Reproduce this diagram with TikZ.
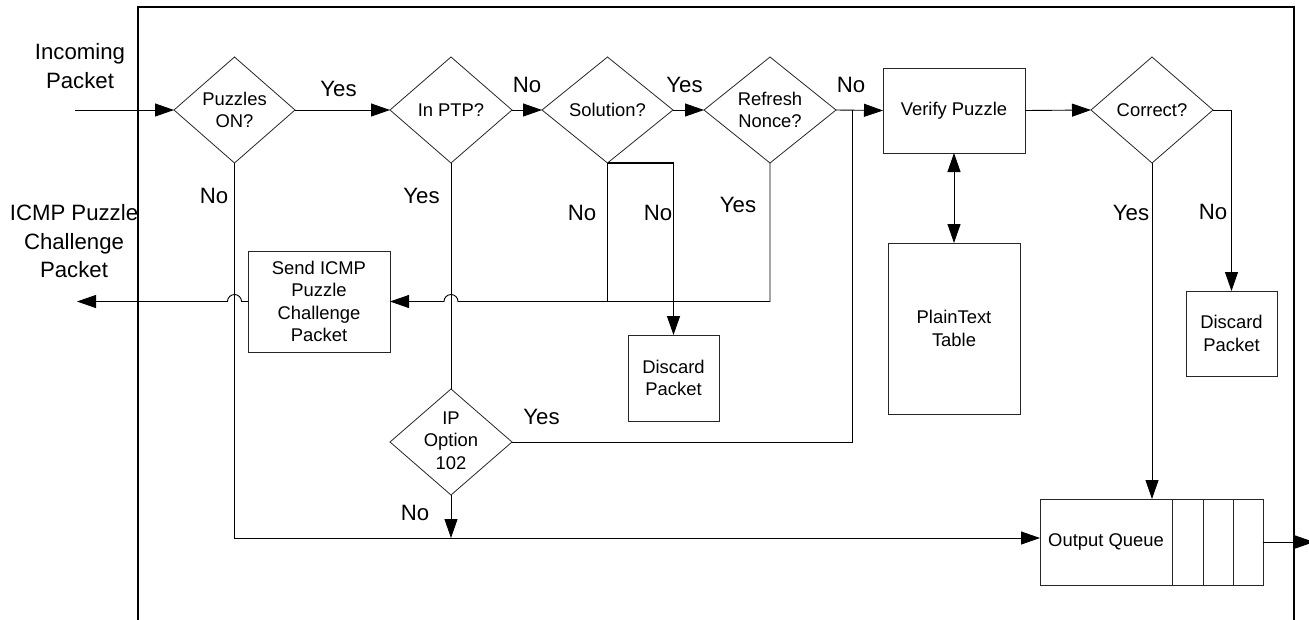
\documentclass[tikz,border=0pt]{standalone}
\usepackage{fontspec}
\setmainfont{Liberation Sans}
\usetikzlibrary{arrows.meta,shapes.geometric,calc}
\newcommand\boxtxt{\fontsize{18.4}{22.5}\selectfont}
\newcommand\lbltxt{\fontsize{22.2}{28.5}\selectfont}
\begin{document}
\begin{tikzpicture}[x=1pt,y=-1pt,
  line/.style={draw=black, line width=0.9pt},
  tip/.tip={Triangle[length=19pt,width=13pt]},
  arr/.style={line, -tip},
  dia/.style={draw=black!85, line width=0.8pt, diamond, inner sep=0pt, outer sep=0pt},
  box/.style={draw=black!85, line width=0.9pt, rectangle, inner sep=0pt, outer sep=0pt, align=center, font=\boxtxt},
  intext/.style={align=center, font=\boxtxt, inner sep=0pt},
  lbl/.style={align=center, font=\lbltxt, inner sep=0pt},
  frame/.style={draw=black, line width=1.6pt}
]
\useasboundingbox (0,0) rectangle (1309,619);
\clip (0,0) rectangle (1309,619);

% enclosing frame (open at the bottom)
\draw[frame] (138,630) -- (138,7) -- (1294,7) -- (1294,630);

% decisions
\node[dia, minimum width=121, minimum height=106] (d1) at (234.5,110) {};
\node[dia, minimum width=122, minimum height=106] (d2) at (451,110) {};
\node[dia, minimum width=131, minimum height=106] (d3) at (607.5,110) {};
\node[dia, minimum width=132, minimum height=106] (d4) at (770,110) {};
\node[dia, minimum width=122, minimum height=106] (d5) at (1152,110) {};
\node[dia, minimum width=122, minimum height=106] (d6) at (451,442) {};
\node[intext] (d1t) at (d1) {Puzzles\\ON?};
\node[intext] (d2t) at (d2) {In PTP?};
\node[intext] (d3t) at (d3) {Solution?};
\node[intext] (d4t) at (d4) {Refresh\\Nonce?};
\node[intext] (d5t) at (d5) {Correct?};
\node[intext] (d6t) at (451,440.5) {IP\\Option\\102};

% processes
\node[box, minimum width=142, minimum height=101] (send) at (319,301.5) {Send ICMP\\Puzzle\\Challenge\\Packet};
\node[box, minimum width=91, minimum height=86] (discA) at (673.5,378) {Discard\\Packet};
\node[box, minimum width=142, minimum height=85] (verify) at (954,110.5) {Verify Puzzle};
\node[box, minimum width=132, minimum height=171] (table) at (954,328.5) {PlainText\\Table};
\node[box, minimum width=91, minimum height=85] (discB) at (1231.5,333.5) {Discard\\Packet};
\node[box, minimum width=132, minimum height=86] (oq) at (1106,542) {Output Queue};
\node[box, minimum width=31, minimum height=86] (q1) at (1187.5,542) {};
\node[box, minimum width=30, minimum height=86] (q2) at (1218,542) {};
\node[box, minimum width=30, minimum height=86] (q3) at (1248,542) {};

% free ends and junctions
\coordinate (in) at (75,110);
\coordinate (icmp) at (77,301.5);
\coordinate (out) at (1314,542);
\coordinate (j) at (852,110);
\coordinate (bus) at (234.5,538);

% outside labels
\node[lbl] (inlbl) at (80,66) {Incoming\\Packet};
\node[lbl] (icmplbl) at (74,241.5) {ICMP Puzzle\\Challenge\\Packet};

% main flow
\draw[arr] (in) -- (d1.west);
\draw[arr] (d1.east) -- (d2.west);
\draw[arr] (d2.east) -- (d3.west);
\draw[arr] (d3.east) -- (d4.west);
\draw[arr] (d4.east) -- (verify.west);
\draw[arr] (verify.east) -- (d5.west);
\draw[arr] (d5.east) -| (discB.north);
\draw[arr] (d5.south) -- (d5.south |- oq.north);
\draw[line, tip-tip] (verify.south) -- (table.north);
\draw[arr] (q3.east) -- (out);

% puzzles off: straight to the queue
\draw[arr] (d1.south) |- (oq.west |- bus);

% challenge path with line hops
\draw[arr] (send.west) -- ($(d1.south |- send.west)+(7,0)$)
  arc[start angle=0, end angle=180, radius=7pt] -- (icmp);
\draw[arr] (d4.south) |- ($(d2.south |- send.east)+(7,0)$)
  arc[start angle=0, end angle=180, radius=7pt] -- (send.east);
\draw[line] (d3.south) -- (d3.south |- send.east);
\draw[line, line width=1.4pt, -tip] (d3.south) -| (discA.north);

% PTP branch
\draw[line] (d2.south) -- (d6.north);
\draw[arr] (d6.south) -- (d6.south |- bus);
\draw[line] (d6.east) -| (j);

% branch labels
\node[lbl] (y1) at (338.5,89) {Yes};
\node[lbl] (n2) at (527,85) {No};
\node[lbl] (y3) at (684.5,85) {Yes};
\node[lbl] (n4) at (851,85) {No};
\node[lbl] (n1) at (214,196) {No};
\node[lbl] (y2) at (421.5,195.5) {Yes};
\node[lbl] (n3a) at (582,213) {No};
\node[lbl] (n3b) at (658,213) {No};
\node[lbl] (y4) at (738,205) {Yes};
\node[lbl] (y5) at (1131,213) {Yes};
\node[lbl] (n5) at (1213,212) {No};
\node[lbl] (y6) at (541.5,416.5) {Yes};
\node[lbl] (n6) at (415,513) {No};
\end{tikzpicture}
\end{document}
